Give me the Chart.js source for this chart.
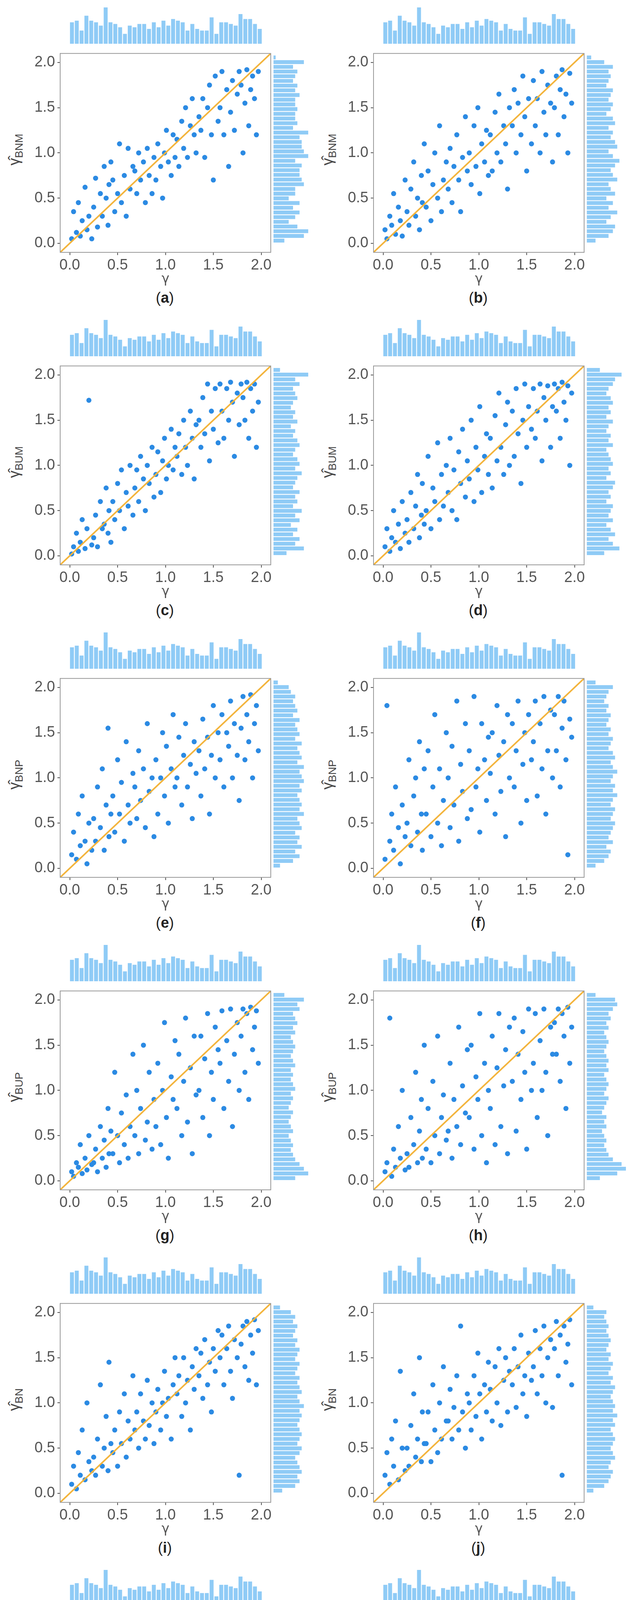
<!DOCTYPE html>
<html><head><meta charset="utf-8">
<script src="https://cdn.jsdelivr.net/npm/chart.js@4/dist/chart.umd.min.js"></script>
<style>
body{margin:0;background:#fff;width:1615px;height:4808px;position:relative;font-family:"Liberation Sans",Arial,sans-serif;overflow:hidden}
.p{position:absolute;width:804px;height:800px}
canvas{position:absolute}
.yl{position:absolute;left:40px;top:383px;transform:translate(-50%,-50%) rotate(-90deg);font-size:38px;color:#444;white-space:nowrap}
.yl sub{font-size:28px}
.cap{position:absolute;left:422px;top:762px;transform:translate(-50%,-50%);font-size:38px;color:#222}
</style></head><body>
<script>
const panelLetters=['a','b','c','d','e','f','g','h','i','j','k','l'];
const ySubs=['BNM','BNM','BUM','BUM','BNP','BNP','BUP','BUP','BN','BN','BU','BU'];
const tickVals=[0,0.5,1,1.5,2];
const tickText=['0.0','0.5','1.0','1.5','2.0'];
const topCounts=[13,14,8,17,14,13,11,22,13,12,10,6,11,10,12,12,9,13,10,14,11,15,14,13,8,12,9,8,8,16,6,13,13,12,11,18,15,15,12,9];
const gamma=[0.02,0.04,0.07,0.09,0.11,0.13,0.16,0.18,0.2,0.23,
0.25,0.27,0.29,0.32,0.34,0.36,0.38,0.4,0.41,0.43,
0.45,0.47,0.5,0.52,0.54,0.57,0.59,0.61,0.63,0.66,
0.68,0.7,0.72,0.74,0.77,0.79,0.81,0.83,0.86,0.88,
0.9,0.92,0.95,0.97,0.99,1.01,1.03,1.06,1.08,1.1,
1.12,1.14,1.17,1.19,1.21,1.23,1.26,1.28,1.3,1.32,
1.35,1.37,1.39,1.41,1.44,1.46,1.48,1.5,1.52,1.55,
1.57,1.59,1.61,1.64,1.66,1.68,1.7,1.72,1.75,1.77,
1.79,1.81,1.83,1.85,1.87,1.89,1.91,1.93,1.95,1.97];
const yA=[0.05,0.35,0.12,0.45,0.08,0.25,0.62,0.15,0.3,0.05, 0.4,0.72,0.18,0.55,0.3,0.85,0.5,0.2,0.65,0.9, 0.7,0.35,0.55,1.1,0.45,0.75,0.3,1.05,0.6,0.85, 0.8,0.55,1.0,0.7,0.9,0.45,1.05,0.75,0.55,0.95, 0.7,1.1,0.85,0.5,1.0,1.25,0.9,0.75,1.2,0.95, 1.15,0.85,1.35,1.05,1.5,0.95,1.3,1.6,1.2,1.0, 1.4,1.25,1.6,0.95,1.5,1.75,1.2,0.7,1.85,1.35, 1.5,1.9,1.2,1.7,0.85,1.45,1.8,1.25,1.65,1.9, 1.75,1.0,1.55,1.92,1.3,1.7,1.85,1.6,1.2,1.9];
const yB=[0.15,0.05,0.3,0.2,0.55,0.1,0.4,0.25,0.08,0.7, 0.35,0.2,0.6,0.9,0.3,0.5,0.15,0.75,0.45,1.1, 0.4,0.8,0.25,0.65,1.0,0.5,1.3,0.35,0.7,0.9, 0.6,1.05,0.45,0.85,1.2,0.7,0.35,0.95,1.4,0.8, 1.0,0.65,1.3,0.85,1.5,0.55,1.1,0.9,1.25,0.75, 1.2,0.8,1.45,1.0,1.65,0.9,1.3,1.1,0.6,1.5, 1.3,1.7,1.0,1.55,1.2,1.85,1.4,0.8,1.6,1.1, 1.8,1.3,1.6,1.0,1.9,1.45,1.2,1.75,1.55,0.9, 1.5,1.85,1.2,1.7,1.92,1.4,1.65,1.0,1.88,1.55];
const yC=[0.02,0.1,0.25,0.05,0.15,0.4,0.08,0.3,1.72,0.12, 0.2,0.45,0.1,0.6,0.3,0.35,0.75,0.25,0.5,0.15, 0.6,0.4,0.8,0.5,0.95,0.3,0.7,0.55,1.0,0.45, 0.75,0.95,0.6,1.1,0.85,0.5,1.0,0.8,1.2,0.65, 0.9,1.15,0.7,1.05,1.3,0.85,1.0,1.4,0.95,1.2, 1.1,1.35,0.9,1.5,1.2,1.0,1.6,1.3,0.85,1.45, 1.5,1.2,1.75,1.35,1.9,1.05,1.6,1.4,1.85,1.25, 1.9,1.6,1.3,1.85,1.5,1.92,1.7,1.1,1.8,1.45, 1.9,1.75,1.5,1.92,1.3,1.85,1.6,1.9,1.2,1.7];
const yD=[0.1,0.3,0.05,0.2,0.5,0.15,0.35,0.08,0.6,0.25, 0.4,0.15,0.7,0.3,0.55,0.9,0.2,0.45,0.8,0.35, 0.5,1.1,0.3,0.75,0.6,1.25,0.4,0.9,0.55,1.0, 0.7,1.3,0.5,0.95,0.4,1.15,0.8,1.4,0.65,1.05, 0.85,1.5,0.6,1.2,0.95,1.65,0.7,1.1,1.35,0.9, 1.3,0.75,1.55,1.05,1.8,1.2,0.9,1.45,1.7,1.0, 1.6,1.1,1.85,1.35,0.8,1.5,1.9,1.2,1.65,1.4, 1.85,1.3,1.6,1.9,1.05,1.75,1.5,1.88,1.2,1.65, 1.9,1.6,1.85,1.3,1.92,1.7,1.5,1.88,1.0,1.8];
const yE=[0.15,0.4,0.1,0.6,0.25,0.8,0.3,0.05,0.5,0.2, 0.55,0.3,0.9,0.45,1.1,0.2,0.7,1.55,0.35,0.6, 0.8,0.4,1.2,0.6,0.95,0.3,1.4,0.7,0.5,1.05, 0.9,0.55,1.3,0.75,1.1,0.45,1.6,0.85,1.0,0.35, 1.2,0.6,1.0,1.5,0.8,1.35,0.5,1.1,1.7,0.9, 1.0,1.45,0.7,1.25,1.6,0.9,1.15,0.55,1.4,1.05, 1.3,0.8,1.65,1.1,1.45,0.6,1.25,1.8,1.0,1.5, 1.2,1.7,0.9,1.5,1.35,1.85,1.0,1.6,1.25,0.75, 1.55,1.9,1.2,1.7,1.4,1.92,1.0,1.6,1.8,1.3];
const yF=[0.1,1.8,0.3,0.6,0.2,0.9,0.45,0.05,0.7,0.35, 0.5,1.2,0.25,0.8,1.0,0.4,1.4,0.6,0.2,1.1, 0.6,1.3,0.35,0.9,1.7,0.5,1.1,0.25,0.75,1.5, 1.0,0.45,1.35,0.7,1.85,0.3,1.15,0.85,1.6,0.55, 1.3,0.65,1.9,0.9,1.1,0.4,1.6,1.2,0.75,1.45, 1.05,1.5,0.6,1.8,1.25,0.85,1.4,0.35,1.7,1.0, 1.6,0.9,1.3,1.85,0.5,1.15,1.5,0.75,1.7,1.2, 1.4,1.85,0.8,1.6,1.1,1.9,0.6,1.3,1.75,1.0, 1.7,1.3,1.9,0.9,1.55,1.85,1.2,0.15,1.65,1.45];
const yG=[0.1,0.05,0.2,0.15,0.4,0.08,0.25,0.12,0.5,0.18, 0.2,0.35,0.1,0.6,0.25,0.45,0.15,0.8,0.3,0.55, 0.3,1.2,0.5,0.2,0.75,0.4,0.95,0.25,0.6,1.4, 0.5,1.0,0.3,0.8,1.5,0.45,0.65,1.2,0.35,0.9, 0.6,1.3,0.4,1.0,1.75,0.7,0.25,1.15,0.9,1.55, 0.8,1.4,0.5,1.1,1.8,0.65,1.25,0.3,1.6,0.95, 1.0,1.6,0.7,1.35,1.85,0.5,1.2,0.9,1.7,1.45, 1.3,1.88,0.8,1.55,1.1,1.9,0.6,1.4,1.75,1.0, 1.6,1.9,1.2,1.85,0.9,1.92,1.45,1.7,1.88,1.3];
const yH=[0.1,0.2,1.8,0.05,0.35,0.15,0.6,0.25,1.0,0.12, 0.3,0.15,0.7,0.4,1.2,0.2,0.55,0.9,0.25,1.5, 0.35,0.8,0.2,1.1,0.5,1.6,0.3,0.7,0.95,0.45, 0.55,1.3,0.25,0.9,0.6,1.7,0.4,1.05,0.75,1.45, 0.7,1.5,0.35,1.15,0.9,1.85,0.5,1.3,0.2,1.0, 0.8,1.6,0.4,1.25,1.85,0.6,1.05,1.45,0.3,1.7, 1.1,1.8,0.55,1.4,0.9,1.65,1.2,0.35,1.9,1.0, 1.3,1.85,0.7,1.55,1.0,1.9,1.2,0.5,1.7,1.4, 1.75,1.4,1.9,1.1,1.85,1.6,0.8,1.92,1.3,1.7];
const yI=[0.1,0.3,0.05,0.45,0.2,0.7,0.15,1.0,0.35,0.25, 0.4,0.2,0.6,1.2,0.3,0.5,0.85,0.25,1.45,0.55, 0.45,0.7,0.3,0.9,0.55,1.1,0.4,0.8,0.6,1.3, 0.7,0.9,0.5,1.1,0.8,0.6,1.25,0.75,1.0,0.55, 0.9,1.15,0.7,1.0,1.35,0.85,1.05,0.6,1.2,1.5, 1.1,1.3,0.85,1.5,1.0,1.25,0.7,1.4,1.15,1.6, 1.3,1.55,1.05,1.7,1.2,1.45,0.9,1.6,1.35,1.8, 1.5,1.75,1.2,1.6,1.85,1.35,1.05,1.7,1.5,0.2, 1.65,1.85,1.4,1.9,1.25,1.75,1.55,1.92,1.2,1.8];
const yJ=[0.2,0.45,0.1,0.6,0.3,0.8,0.15,1.35,0.5,0.25, 0.5,0.3,0.75,1.1,0.4,0.6,1.5,0.35,0.9,0.55, 0.55,0.9,0.35,1.2,0.7,0.45,1.0,0.6,1.4,0.8, 0.8,1.15,0.6,0.95,1.3,0.7,1.85,0.9,0.5,1.1, 1.0,0.7,1.3,0.85,1.55,1.1,0.6,1.2,0.9,1.45, 1.15,0.8,1.4,1.0,1.6,0.75,1.25,1.5,0.9,1.35, 1.2,1.6,0.95,1.4,1.75,1.1,1.3,0.85,1.55,1.25, 1.4,1.8,1.1,1.6,1.3,1.85,1.0,1.5,1.7,0.95, 1.6,1.9,1.3,1.75,0.2,1.85,1.45,1.65,1.92,1.2];
const yK=[0.1,0.2,0.05,0.3,0.15,0.5,0.08,0.25,1.0,0.12, 0.15,0.3,0.1,0.5,0.25,0.9,0.2,0.4,1.6,0.3, 0.25,0.6,0.15,0.8,0.4,1.1,0.3,0.7,0.2,1.3, 0.4,0.9,0.25,1.1,0.6,0.35,1.4,0.75,0.5,1.0, 0.6,1.2,0.4,0.9,1.5,0.7,1.05,0.3,1.3,0.85, 0.7,1.35,0.5,1.1,1.8,0.9,1.25,0.45,1.6,1.0, 1.0,1.7,0.6,1.4,1.85,0.8,1.25,1.55,0.5,1.9, 1.25,1.85,0.9,1.6,1.1,1.9,0.7,1.5,1.8,0.3, 1.5,1.88,1.2,1.75,0.9,1.92,1.4,1.7,1.85,1.1];
const yL=[0.2,1.65,0.1,0.15,0.55,1.6,0.2,0.75,0.15,0.5, 1.3,0.2,0.45,0.25,1.25,0.15,0.6,0.2,0.9,0.3, 0.2,1.1,0.5,0.15,0.85,0.6,1.35,0.1,0.35,0.9, 1.15,0.25,1.85,0.55,0.2,0.8,0.4,0.1,1.3,0.7, 1.05,1.45,0.3,1.8,0.15,1.1,0.45,0.8,1.25,0.6, 1.7,0.85,1.2,0.35,1.85,0.55,1.4,0.05,1.0,1.55, 1.75,1.2,0.95,1.8,0.35,1.5,0.8,1.15,0.5,1.3, 1.8,1.1,1.55,0.7,1.85,0.9,1.4,1.25,0.5,1.7, 1.9,1.5,1.85,1.3,1.75,0.95,1.9,0.15,1.65,1.45];
const rA=[5,14,16,11,7,10,12,9,12,7,10,10,14,13,12,12,13,10,16,14,13,13,12,16,9,11,10,10,11,10,10,12,10,11,9,10,11,9,14,1];
const rB=[4,10,12,13,9,11,14,10,12,9,13,11,10,14,12,11,13,15,12,10,14,13,11,12,10,13,12,9,11,12,10,11,12,9,10,11,10,12,8,2];
const rC=[6,14,10,12,9,11,8,12,10,13,9,11,10,12,9,10,11,13,10,12,11,9,10,12,11,9,10,8,11,9,10,8,9,11,10,9,12,10,16,3];
const rD=[8,15,12,10,13,11,9,12,10,11,12,9,11,10,12,13,9,11,10,12,11,10,9,12,10,11,9,10,12,9,11,10,12,11,9,10,12,13,16,6];
const rE=[3,9,12,10,13,11,12,10,13,12,11,14,12,13,12,11,13,12,14,13,12,14,11,13,12,11,13,10,12,11,10,12,9,11,10,9,10,8,7,2];
const rF=[4,8,10,11,9,12,10,11,12,13,11,12,13,11,12,14,12,13,11,12,14,12,11,13,12,10,11,12,10,11,9,10,11,9,10,8,9,10,12,4];
const rG=[10,16,14,12,10,9,8,9,8,7,9,8,7,8,9,7,8,9,8,10,9,8,9,8,10,9,8,9,10,9,8,10,9,11,10,9,12,11,14,5];
const rH=[6,14,18,16,12,10,9,8,9,8,7,9,8,9,7,8,9,10,8,9,10,9,8,10,9,10,9,8,9,10,9,8,10,9,11,10,12,14,13,4];
const rI=[4,10,12,11,13,12,11,10,12,13,11,12,13,12,11,12,13,12,14,12,11,13,12,11,12,10,11,12,10,11,12,10,11,9,10,11,9,10,8,3];
const rJ=[3,8,10,11,12,10,11,13,12,11,12,13,12,11,13,12,14,12,13,12,11,12,13,11,12,10,11,12,10,11,9,10,11,10,9,10,9,8,9,3];
const rK=[8,16,18,14,11,10,9,8,9,8,7,8,9,8,7,9,8,7,9,8,9,8,7,9,8,9,8,10,9,8,9,10,9,8,10,9,11,10,15,6];
const rL=[2,5,9,16,12,8,6,5,4,5,4,5,4,5,6,4,5,4,5,3,1,3,5,8,3,4,3,4,7,4,6,3,5,6,4,3,5,6,8,5];
const yAll=[yA,yB,yC,yD,yE,yF,yG,yH,yI,yJ,yK,yL];
const rAll=[rA,rB,rC,rD,rE,rF,rG,rH,rI,rJ,rK,rL];
const binLabels=topCounts.map((_,i)=>(i*0.05).toFixed(2));

const boxPlugin={id:'box',afterDraw(c){const a=c.chartArea,g=c.ctx;g.save();g.strokeStyle='#999';g.lineWidth=2;g.strokeRect(a.left,a.top,a.right-a.left,a.bottom-a.top);g.restore();}};
const tickFont={family:'"Liberation Sans",Arial,sans-serif',size:38};

function mk(parent,left,top,w,h){const c=document.createElement('canvas');c.style.left=left+'px';c.style.top=top+'px';c.style.width=w+'px';c.style.height=h+'px';c.width=w;c.height=h;parent.appendChild(c);return c;}

panelLetters.forEach((L,i)=>{
  const col=i%2,row=Math.floor(i/2);
  const p=document.createElement('div');p.className='p';p.style.left=(col*802)+'px';p.style.top=(row*800)+'px';document.body.appendChild(p);
  const yl=document.createElement('div');yl.className='yl';yl.innerHTML='γ\u0302<sub>'+ySubs[i]+'</sub>';p.appendChild(yl);
  const cap=document.createElement('div');cap.className='cap';cap.innerHTML='(<b>'+L+'</b>)';p.appendChild(cap);
  const pts=gamma.map((g,k)=>({x:g,y:yAll[i][k]}));
  const axis=(isX)=>({type:'linear',min:-0.1,max:2.1,
    afterBuildTicks:s=>{s.ticks=tickVals.map(v=>({value:v}));},
    afterFit:s=>{if(isX)s.height=100;else s.width=154;},
    ticks:{color:'#555',font:tickFont,padding:isX?4:6,callback:v=>tickText[tickVals.indexOf(v)]},
    grid:{drawOnChartArea:false,drawTicks:true,tickLength:7,color:'#555',lineWidth:2},
    border:{display:false}});
  new Chart(mk(p,0,108,700,638),{
    data:{datasets:[
      {type:'line',data:[{x:-0.1,y:-0.1},{x:2.1,y:2.1}],borderColor:'#f3b43c',borderWidth:4,pointRadius:0,order:0},
      {type:'scatter',data:pts,backgroundColor:'#2b8ae3',borderWidth:0,pointRadius:6.5,order:1}]},
    options:{animation:false,responsive:false,layout:{padding:{top:10,right:7}},
      plugins:{legend:{display:false},tooltip:{enabled:false}},
      scales:{x:axis(true),y:axis(false)}},
    plugins:[boxPlugin,{id:'xt',afterDraw(c){const g=c.ctx;g.save();g.fillStyle='#555';g.font='34px "DejaVu Sans"';g.textAlign='center';g.fillText('γ',(c.chartArea.left+c.chartArea.right)/2,c.chartArea.bottom+78);g.restore();}}]
  });
  new Chart(mk(p,178,17,493,95),{type:'bar',
    data:{labels:binLabels,datasets:[{data:topCounts,backgroundColor:'#8fcbf6',categoryPercentage:1,barPercentage:0.82}]},
    options:{animation:false,responsive:false,layout:{padding:0},plugins:{legend:{display:false},tooltip:{enabled:false}},
      scales:{x:{display:false},y:{display:false,min:0,max:22.5}}}});
  new Chart(mk(p,700,141,100,481),{type:'bar',
    data:{labels:binLabels,datasets:[{data:rAll[i],backgroundColor:'#8fcbf6',categoryPercentage:1,barPercentage:0.82}]},
    options:{indexAxis:'y',animation:false,responsive:false,layout:{padding:0},plugins:{legend:{display:false},tooltip:{enabled:false}},
      scales:{y:{display:false,reverse:true},x:{display:false,min:0,max:18}}}});
});
</script>
</body></html>
